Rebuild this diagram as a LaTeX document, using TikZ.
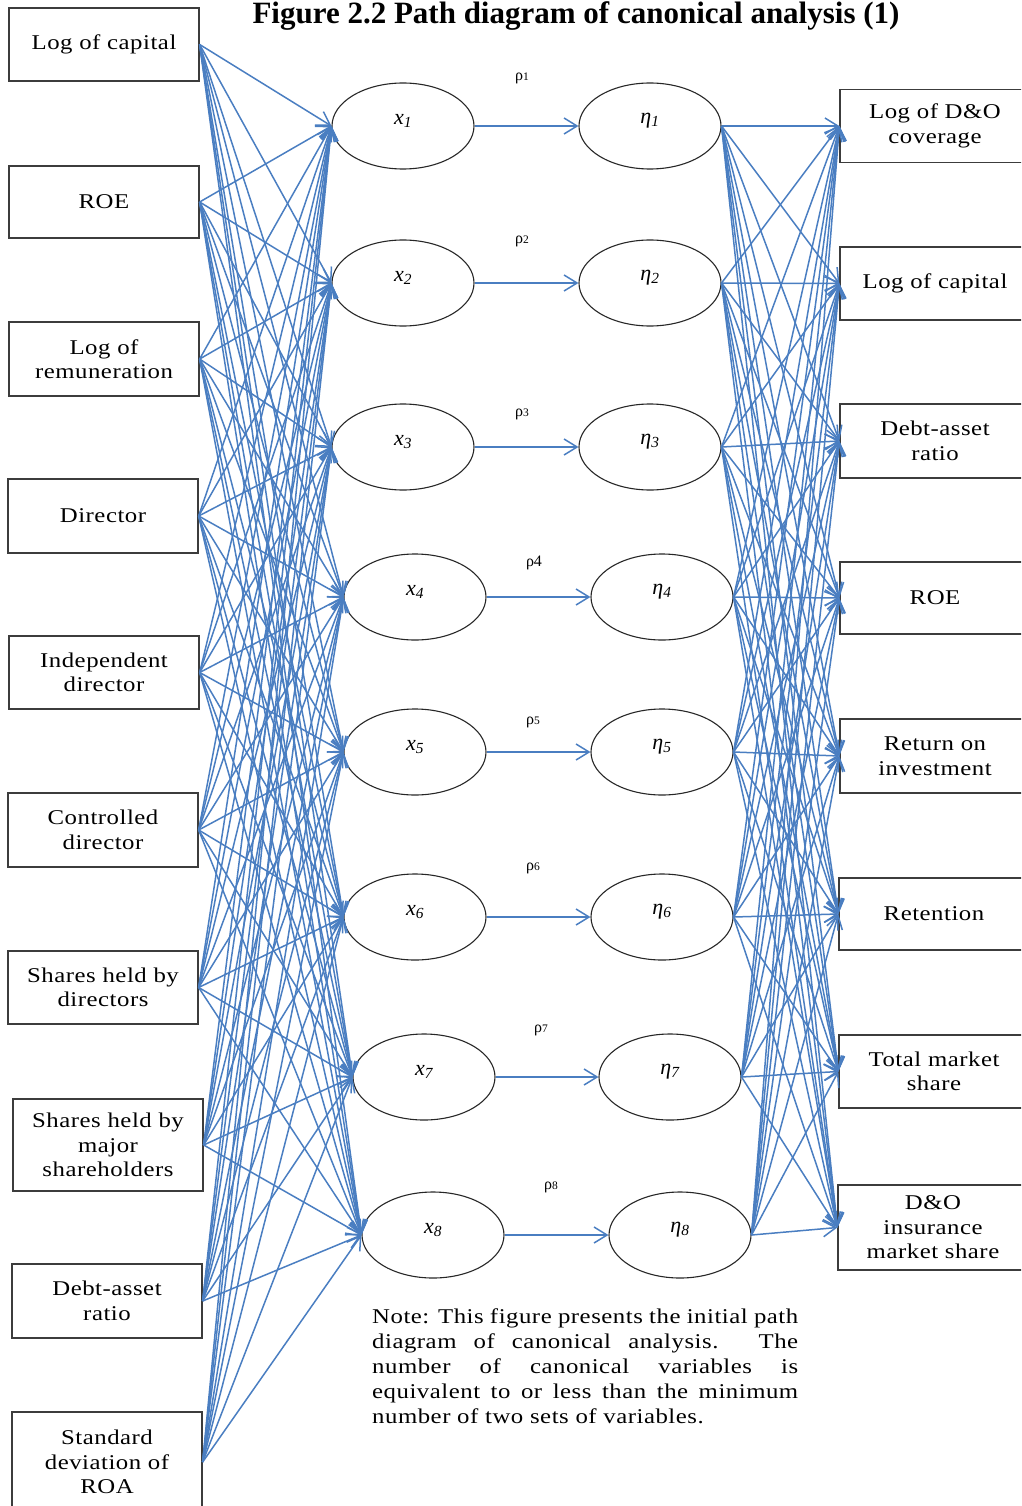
\documentclass[tikz,border=0pt]{standalone}
\usepackage{fontspec}
\setmainfont{Liberation Serif}
\newfontfamily\spacedserif[FakeStretch=1.18,LetterSpace=2.5]{Liberation Serif}
\usetikzlibrary{shapes.geometric,arrows.meta}
\definecolor{lineblue}{RGB}{74,126,193}
\definecolor{boxgray}{RGB}{60,60,60}
\newcommand\boxtext{\spacedserif\fontsize{21}{24.5}\selectfont}
\newcommand\notetext{\spacedserif\fontsize{21}{25}\selectfont}
\newcommand\rholabel[1]{{\fontsize{16}{16}\selectfont ρ}{\fontsize{11.5}{11.5}\selectfont #1}}
\begin{document}
\begin{tikzpicture}[x=1pt,y=-1pt,
  box/.style={draw=boxgray, line width=1.3pt, fill=white, minimum width=190pt,
    minimum height=73pt, inner sep=0pt, align=center, font=\boxtext},
  latent/.style={ellipse, draw=black!85, line width=1.1pt, minimum width=142pt,
    minimum height=86pt, inner sep=0pt},
  lbl/.style={inner sep=0pt, font=\fontsize{22}{22}\selectfont\itshape},
  link/.style={draw=lineblue, line width=1.5pt, -{Straight Barb[length=13pt,width=16pt]}},
  rho/.style={inner sep=0pt}]
\useasboundingbox (0,0) rectangle (1021,1506);
\clip (0,0) rectangle (1021,1506);

% title
\node[anchor=base, font=\fontsize{31}{36}\selectfont\bfseries] (title) at (576,24)
  {Figure 2.2 Path diagram of canonical analysis (1)};

% first set of variables
\foreach \n/\cx/\cy/\h/\t in {
  1/104/44.5/73/{Log of capital},
  2/104/202/72/{ROE},
  3/104/359/74/{Log of\\remuneration},
  4/103/516/74/{Director},
  5/104/672.5/73/{Independent\\director},
  6/103/830/74/{Controlled\\director},
  7/103/987.5/73/{Shares held by\\directors},
  8/108/1145/92/{Shares held by\\major\\shareholders},
  9/107/1301/74/{Debt-asset\\ratio},
  10/107/1462/100/{Standard\\deviation of\\ROA}}
  \node[box, minimum height=\h pt] (L\n) at (\cx,\cy) {\t};

% second set of variables
\foreach \n/\cx/\cy/\h/\t in {
  1/935/126/73/{Log of D\&O\\coverage},
  2/935/283.5/73/{Log of capital},
  3/935/441/74/{Debt-asset\\ratio},
  4/935/598/72/{ROE},
  5/935/756/74/{Return on\\investment},
  6/934/914/72/{Retention},
  7/934/1071.5/73/{Total market\\share},
  8/933/1227.5/85/{D\&O\\insurance\\market share}}
  \node[box, minimum height=\h pt] (R\n) at (\cx,\cy) {\t};

% canonical variables
\foreach \n/\xa/\xb/\cy in {
  1/403/650/126, 2/403/650/283, 3/403/650/447, 4/415/662/597,
  5/415/662/752, 6/415/662/917, 7/424/670/1077, 8/433/680/1235}{
  \node[latent] (X\n) at (\xa,\cy) {};
  \node[lbl] (Xl\n) at (\xa,\cy-5) {x\textsubscript{\n}};
  \node[latent] (E\n) at (\xb,\cy) {};
  \node[lbl] (El\n) at (\xb,\cy-5) {η\textsubscript{\n}};
}

% canonical correlations
\node[rho] (r1) at (522,78) {\rholabel{1}};
\node[rho] (r2) at (522,241) {\rholabel{2}};
\node[rho] (r3) at (522,414) {\rholabel{3}};
\node[rho] (r4) at (534,563) {{\fontsize{16}{16}\selectfont ρ4}};
\node[rho] (r5) at (533,722) {\rholabel{5}};
\node[rho] (r6) at (533,868) {\rholabel{6}};
\node[rho] (r7) at (541,1030) {\rholabel{7}};
\node[rho] (r8) at (551,1187) {\rholabel{8}};

% paths
\foreach \i in {1,...,10}
  \foreach \j in {1,...,8}
    \draw[link] (L\i.east) -- (X\j.west);
\foreach \i in {1,...,8}
  \draw[link] (X\i.east) -- (E\i.west);
\foreach \i in {1,...,8}
  \foreach \j in {1,...,8}
    \draw[link] (E\i.east) -- (R\j.west);

% note
\node[anchor=north west, inner sep=0pt, align=left, font=\notetext] (note) at (372,1308)
  {\makebox[426pt][s]{Note: This figure presents the initial path}\\
   \makebox[426pt][s]{diagram of canonical analysis. The}\\
   \makebox[426pt][s]{number of canonical variables is}\\
   \makebox[426pt][s]{equivalent to or less than the minimum}\\
   number of two sets of variables.};
\end{tikzpicture}
\end{document}
